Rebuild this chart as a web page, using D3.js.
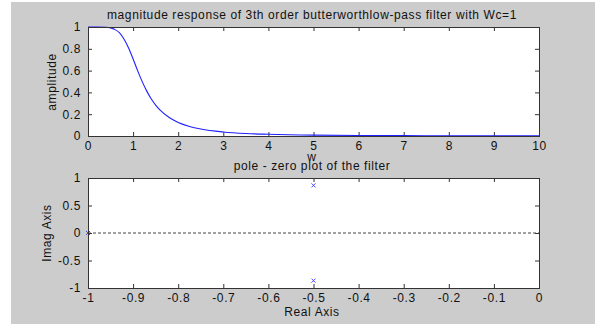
<!DOCTYPE html>
<html>
<head>
<meta charset="utf-8">
<script src="https://cdn.jsdelivr.net/npm/d3@7"></script>
<style>
  body { margin: 0; background: #fff; }
  svg { display: block; }
  text { font-family: "Liberation Sans", Arial, sans-serif; fill: #111; letter-spacing: 0.6px; }
</style>
</head>
<body>
<div id="chart"></div>
<script>
// magnitude response
const wValues = [0, 0.2, 0.4, 0.5, 0.6, 0.7, 0.8, 0.9, 1.0, 1.1, 1.2, 1.3, 1.4, 1.5, 1.6, 1.8, 2.0, 2.25, 2.5, 3, 3.5, 4, 5, 6, 7, 8, 9, 10];
const ampValues = [1, 1, 0.998, 0.992, 0.976, 0.946, 0.888, 0.808, 0.707, 0.6, 0.501, 0.414, 0.342, 0.284, 0.237, 0.169, 0.124, 0.088, 0.064, 0.037, 0.023, 0.016, 0.008, 0.005, 0.003, 0.002, 0.0014, 0.001];

// poles
const poleRe = [-1, -0.5, -0.5];
const poleIm = [0, 0.866, -0.866];

const topXTicks = [0, 1, 2, 3, 4, 5, 6, 7, 8, 9, 10];
const topYTicks = [0, 0.2, 0.4, 0.6, 0.8, 1];
const botXTicks = [-1, -0.9, -0.8, -0.7, -0.6, -0.5, -0.4, -0.3, -0.2, -0.1, 0];
const botYTicks = [-1, -0.5, 0, 0.5, 1];

const W = 595, H = 324;
const svg = d3.select('#chart').append('svg').attr('width', W).attr('height', H);

svg.append('rect').attr('x', 11).attr('y', 2).attr('width', W - 11).attr('height', H - 2).attr('fill', '#cccccc');

const left = 88, right = 539;
const boxColor = '#333';

// matlab style numbers: plain hyphen
const num = (d) => String(d).replace('\u2212', '-');

function drawAxes(x, y, xTicks, yTicks) {
  const [x0, x1] = x.range();
  const [y0, y1] = y.range();
  svg.append('rect')
    .attr('x', x0).attr('y', y1)
    .attr('width', x1 - x0).attr('height', y0 - y1)
    .attr('fill', '#fff');

  const g = svg.append('g');
  g.append('g').attr('transform', `translate(0,${y0})`)
    .call(d3.axisBottom(x).tickValues(xTicks).tickSizeInner(-4).tickSizeOuter(0).tickPadding(5).tickFormat(num))
    .call((a) => a.select('.domain').remove());
  g.append('g').attr('transform', `translate(0,${y1})`)
    .call(d3.axisTop(x).tickValues(xTicks).tickSizeInner(-4).tickSizeOuter(0).tickFormat(''))
    .call((a) => a.select('.domain').remove());
  g.append('g').attr('transform', `translate(${x0},0)`)
    .call(d3.axisLeft(y).tickValues(yTicks).tickSizeInner(-4).tickSizeOuter(0).tickPadding(7).tickFormat(num))
    .call((a) => a.select('.domain').remove());
  g.append('g').attr('transform', `translate(${x1},0)`)
    .call(d3.axisRight(y).tickValues(yTicks).tickSizeInner(-4).tickSizeOuter(0).tickFormat(''))
    .call((a) => a.select('.domain').remove());
  g.selectAll('.tick line').attr('stroke', boxColor);
  g.selectAll('.tick text').attr('fill', '#111')
    .attr('font-size', 12)
    .attr('font-family', '"Liberation Sans", Arial, sans-serif');
}

function frame(x, y) {
  const [x0, x1] = x.range();
  const [y0, y1] = y.range();
  svg.append('rect')
    .attr('x', x0 + 0.5).attr('y', y1 + 0.5)
    .attr('width', x1 - x0).attr('height', y0 - y1)
    .attr('fill', 'none').attr('stroke', boxColor).attr('stroke-width', 1);
}

// top plot
const x1s = d3.scaleLinear([0, 10], [left, right]);
const y1s = d3.scaleLinear([0, 1], [136, 27]);
drawAxes(x1s, y1s, topXTicks, topYTicks);

const line = d3.line().x((d) => x1s(d[0])).y((d) => y1s(d[1])).curve(d3.curveMonotoneX);
svg.append('path')
  .datum(wValues.map((w, i) => [w, ampValues[i]]))
  .attr('fill', 'none').attr('stroke', '#2020ff').attr('stroke-width', 1.1)
  .attr('d', line);
frame(x1s, y1s);

svg.append('text').attr('x', 312).attr('y', 19).attr('text-anchor', 'middle').attr('font-size', 12)
  .text('magnitude response of 3th order butterworthlow-pass filter with Wc=1');
svg.append('text').attr('transform', 'translate(56,82) rotate(-90)').attr('text-anchor', 'middle').attr('font-size', 12)
  .text('amplitude');
svg.append('text').attr('x', 312).attr('y', 161).attr('text-anchor', 'middle').attr('font-size', 12).text('w');

// bottom plot
const x2s = d3.scaleLinear([-1, 0], [left, right]);
const y2s = d3.scaleLinear([-1, 1], [288, 178]);
drawAxes(x2s, y2s, botXTicks, botYTicks);

svg.append('line')
  .attr('x1', x2s(-1)).attr('x2', x2s(0))
  .attr('y1', y2s(0)).attr('y2', y2s(0))
  .attr('stroke', '#444').attr('stroke-dasharray', '3,2');

poleRe.forEach((re, i) => {
  const cx = x2s(re), cy = y2s(poleIm[i]);
  svg.append('path')
    .attr('d', `M${cx - 2},${cy - 2}L${cx + 2},${cy + 2}M${cx - 2},${cy + 2}L${cx + 2},${cy - 2}`)
    .attr('fill', 'none').attr('stroke', '#4a4aff').attr('stroke-width', 1);
});
frame(x2s, y2s);

svg.append('text').attr('x', 312).attr('y', 170).attr('text-anchor', 'middle').attr('font-size', 12)
  .text('pole - zero plot of the filter');
svg.append('text').attr('transform', 'translate(51,233) rotate(-90)').attr('text-anchor', 'middle').attr('font-size', 12)
  .text('Imag Axis');
svg.append('text').attr('x', 312).attr('y', 316).attr('text-anchor', 'middle').attr('font-size', 12)
  .text('Real Axis');
</script>
</body>
</html>
